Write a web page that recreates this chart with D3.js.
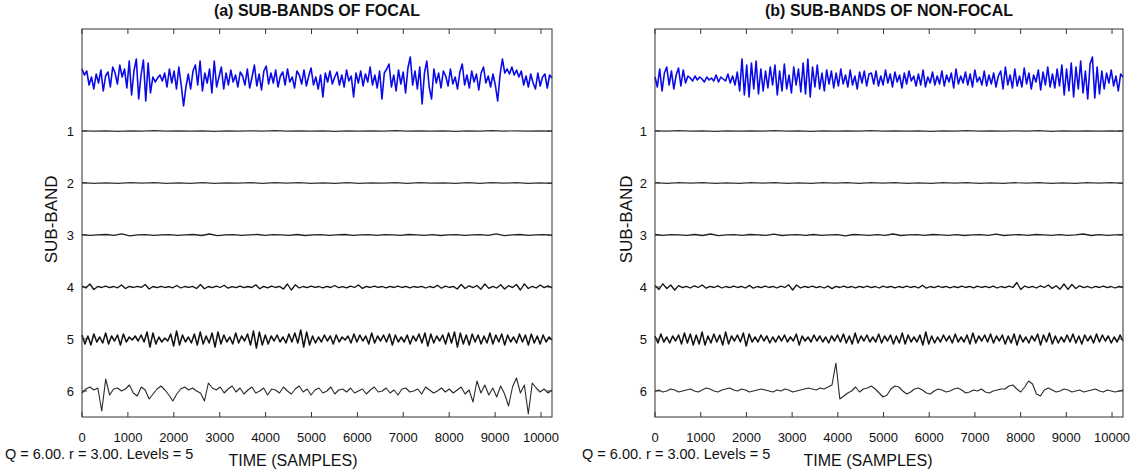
<!DOCTYPE html>
<html>
<head>
<meta charset="utf-8">
<script src="https://cdn.jsdelivr.net/npm/d3@7"></script>
<style>
  body { margin: 0; background: #fff; }
  text { font-family: "Liberation Sans", Arial, sans-serif; fill: #111; }
</style>
</head>
<body>
<div id="chart"></div>
<script>
// ---- data (amplitudes in the plot's own units) ----
const nSamples = 10240;
const xTicks = [0, 1000, 2000, 3000, 4000, 5000, 6000, 7000, 8000, 9000, 10000];
const bandLabels = ['1', '2', '3', '4', '5', '6'];
const titles = ['(a) SUB-BANDS OF FOCAL', '(b) SUB-BANDS OF NON-FOCAL'];
const paramText = 'Q = 6.00. r = 3.00. Levels = 5';

const focalSignal = [10, 4, 8, -6, 2, -10, 5, -4, 9, -12, 3, 7, -8, 12, 6, -5, 14, 2, 10, -9,
  18, -16, 8, 20, -20, 4, 19, -22, 16, -14, 2, -3, 1, 4, -2,
  6, -8, 10, -4, 8, -10, 12, -6, -27, -8,
  5, -10, 8, 14, -6, 18, -12, 6, -4, 10, -14, 18, -8, 2, 12, -10, 6, -6, 9, -3,
  4, -8, 7, 3, -6, 10, -9, 2, 14, -7, 5, -11, 8, 13, -5,
  6, -4, 9, -8, 3, 7, -6, 10, -3, 2, -9, 8, 4, -5, 9, -7, 3, 11, -6, 2,
  -10, 4, -18, 6, -3, 8, -5, 2, 7, -6, 4, -8, 9, -2, 3, -18, 6, -4, 8, -7,
  5, -3, 12, -6, 4, -9, 8, -20, 6, 10, 15, -8, 4, -12, 9, -5, 7, -14, 11, 22,
  -6, 8, -10, 12, -25, 6, 18, -8, -20, 10, -4, 6, -9, 8, 3, -7, 10, -5, 2, -10,
  7, 15, -6, 4, -9, 8, -3, 5, -11, 6, 12, -4, 3, -8, 5, -6, -22, 4, 20, 6,
  10, 5, 12, 4, 9, 2, 8, -6, 3, -8, 5, -4, -10, 6, -7, 2, 5, -9, 4, 1];

const nonFocalSignal = [2, -8, 10, -12, 6, 12, -6, 8, -10, 4, 11, -7, 9, -4, 3,
  1, -2, 3, -1, 2, 0, -3, 2, -1, 1, -2, 4, -3, 2, 0, -2, 5, -4, 3, -6, 7,
  -12, 20, -16, 14, -18, 16, -10, 18, -15,
  10, -12, 8, -9, 12, -6,
  14, -16, 8, -12, 15, -10, 4, -14, 12, -6, 10, -13, 16, -15, 20, -18, 12, -8, 14, -10, 6, -12, 9, -5,
  8, -9, 6, -7, 10, -5, 4, -8, 9, -6, 3, -10, 7, -4, 8, -7, 5,
  6, -5, 8, -7, 3, -6, 9, -4, 5, -8, 7, -3, 4, -9, 6, -5, 8, -2, 3, -7,
  5, -6, 9, -8, 2, -4, 7, -6, 3, -5, 8, -7, 4, -3, 6, -9, 10, -5, 3, -4,
  7, -6, 5, -8, 9, -3, 2, -6, 8, -7, 4, -5, 6, -8, 3,
  8, -10, 12, -6, 4, -9, 10, -7, 3, -8, 11, -5, 6, -10, 4, -3, 9, -11, 7, -6, 12, -8, 5, -9, 10, -7,
  14, -16, 10, -12, 16, -18, 12, -10, 18, -14, 8, -20, 15, 22, -19, 12, -15,
  8, -10, 6, -4, 9, -7, 3, -12, 5, 2];

const focalBand1 = [0.2, -0.2, 0.1, -0.3, 0.2, -0.1, 0.3, -0.2, 0.1, -0.2, 0.2, -0.3, 0.1, -0.1, 0.2, -0.2, 0.3, -0.1, 0.2, -0.2,
  0.1, -0.3, 0.2, -0.2, 0.1, -0.1, 0.3, -0.2, 0.2, -0.1, 0.1, -0.3, 0.2, -0.2, 0.3, -0.1, 0.2, -0.2, 0.1, -0.2];
const focalBand2 = [0.3, -0.3, 0.2, -0.4, 0.3, -0.2, 0.4, -0.3, 0.2, -0.3, 0.3, -0.4, 0.2, -0.2, 0.3, -0.3, 0.4, -0.2, 0.3, -0.3,
  0.2, -0.4, 0.3, -0.3, 0.2, -0.2, 0.4, -0.3, 0.3, -0.2, 0.2, -0.4, 0.3, -0.3, 0.4, -0.2, 0.3, -0.3, 0.2, -0.3];
const focalBand3 = [0.4, -0.4, 0.2, 0.5, -0.4, 1.2, -0.8, 0.1, 0.4, -0.3, 0.1, 0.4, -0.4, 0.1, 0.5, -0.5, 1.0, -0.6, 0.1, 0.4,
  -0.4, 0.1, 0.5, -0.4, 0.4, 0.1, -0.4, 0.5, -0.5, 0.1, 0.4, -0.4, 0.1, 0.5, -0.4, 0.1, 0.4, -0.4, 0.4, 0.1,
  -0.4, 0.5, 0.1, -0.4, 0.4, -0.5, 0.1, 0.4, -0.4, 0.1, 0.4, -0.4, 1.1, -0.7, 0.1, 0.5, -0.4, 0.1, 0.4, -0.4];
const focalBand4 = [0.8, -1, 3, -2.5, 0.6, -0.5, 0.8, -0.6, 0.5, -0.8, 2, -1.5, 0.6, -0.5, 0.7, -0.4, 2.5, -2, 0.5, -0.6,
  0.7, -0.5, 0.4, -0.8, 1.5, -1, 0.5, -0.4, 0.6, -1.5, 2.5, -1.8, 0.5, -0.6, 0.8, -0.5, 1.8, -1.2, 0.4, -0.7,
  0.9, -0.6, 0.5, -0.5, 2.2, -1.8, 0.6, -0.9, 0.8, -0.5, 0.6, -2, 3, -3, 2.2, -1, 0.5, -0.6, 0.8, -0.4,
  0.5, -0.8, 0.6, -0.5, 1.5, -0.7, 0.4, -0.9, 0.8, -0.5, 2, -1.4, 0.6, -0.5, 0.9, -0.4, 0.5, -0.8, 0.6, -0.5,
  0.8, -0.5, 0.6, -0.9, 0.5, -0.4, 0.7, -1, 0.5, -0.6, 1.8, -1.2, 0.9, -0.5, 0.6, -2, 2.5, -1.5, 1.2, -0.6,
  1.5, -2.2, 3, -1.4, 0.6, -1, 2.2, -2, 1.3, -0.6, 2.5, -3, 3.2, -1.5, 0.7, -1, 2, -0.6, 1.1, -0.8];
const focalBand5 = [4, -5, 3, -6, 5, -3, 2, -4, 6, -5, 3, -2, 4, -6, 5, -3, 2, -1, 3, -2,
  4, -3, 7, -8, 6, -5, 2, -3, 1, -2, 5, -7, 8, -6, 4, -3, 2, -4, 5, -6,
  7, -5, 3, -4, 6, -8, 7, -5, 4, -3, 2, -5, 6, -4, 3, -2, 5, -6, 8, -9,
  7, -6, 4, -5, 3, -2, 4, -3, 2, -4, 5, -3, 6, -4, 9, -8, 7, -6, 3, -4,
  2, -3, 4, -2, 3, -5, 4, -3, 2, -1, 3, -4, 5, -3, 4, -2, 3, -5, 6, -4,
  3, -2, 4, -3, 5, -6, 4, -3, 2, -3, 4, -5, 3, -2, 5, -4, 6, -7, 5, -4,
  3, -2, 4, -5, 6, -4, 7, -8, 6, -5, 4, -6, 5, -3, 4, -5, 3, -4, 6, -5,
  4, -3, 5, -6, 4, -3, 2, -4, 5, -3, 4, -6, 5, -4, 3, -5, 4, -3, 2, -1];
const focalBand6 = [-2, 2, 4, 1, 3, -20, 12, -4, 2, 3, 0, 2, 6,
  -2, -5, 4, 1, -8, -3, 2, 5, 1, -4, -10,
  -3, 2, 4, 1, 3, 0, -2, -10, 8, 3, 1, 4, -2, 2, 5, -1, 3,
  -3, 1, 4, -2, 0, 3, -4, 2, 1, -2, 4, 0, -3, 2, 5, -1, 2, -4, 1, 3, -2, 0, 4, -3, 1, 2, -1, 3, -2, 0,
  2, -3, 1, 4, -1, 0, 3, -2, 1, -4, 2, 3, -1, 0, 2, -3, 4, 1, -2, 0, 3, -1, 2, -2, 1, 4, -3, 1,
  -11, 10, -2, 6, -4, 3, -6, 5,
  -3, -15, 4, 13, -2, 6, -23, 8, 3, -1, 2, -2, 1];

const nonFocalBand1 = [0.2, -0.2, 0.3, -0.1, 0.2, -0.3, 0.1, -0.2, 0.2, -0.1, 0.3, -0.2, 0.1, -0.3, 0.2, -0.1, 0.2, -0.2, 0.3, -0.1,
  0.2, -0.2, 0.1, -0.3, 0.2, -0.1, 0.3, -0.2, 0.1, -0.2, 0.2, -0.1, 0.3, -0.3, 0.1, -0.2, 0.2, -0.1, 0.2, -0.2];
const nonFocalBand2 = [0.3, -0.3, 0.4, -0.2, 0.3, -0.4, 0.2, -0.3, 0.3, -0.2, 0.4, -0.3, 0.2, -0.4, 0.3, -0.2, 0.3, -0.3, 0.4, -0.2,
  0.3, -0.3, 0.2, -0.4, 0.3, -0.2, 0.4, -0.3, 0.2, -0.3, 0.3, -0.2, 0.4, -0.4, 0.2, -0.3, 0.3, -0.2, 0.3, -0.3];
const nonFocalBand3 = [0.5, -0.4, 0.4, 0.1, -0.4, 0.5, -0.5, 1.0, -0.6, 0.1, 0.4, -0.4, 0.5, 0.1, -0.4, 0.9, -0.5, 0.1, 0.4, -0.4,
  0.5, -0.4, 0.1, 0.4, -0.9, 0.5, 0.1, -0.4, 0.4, -0.4, 1.0, -0.5, 0.1, 0.4, -0.4, 0.5, 0.1, -0.4, 0.4, -0.5,
  0.1, 0.4, -0.4, 0.9, -0.5, 0.1, 0.4, -0.4, 0.5, 0.1, -0.4, 0.4, -0.4, 0.1, 1.0, -0.5, 0.4, -0.4, 0.1, 0.4];
const nonFocalBand4 = [1.5, -2.5, 3.2, -1.5, 2, -3, 1.4, -0.6, 0.7, -1, 1.2, -0.5, 2, -1.2, 0.6, -0.5, 1.1, -1, 0.5, -0.6,
  0.9, -0.5, 0.6, -1, 1.6, -1.2, 0.5, -0.6, 0.8, -0.5, 0.6, -1, 0.9, -0.5, 2.2, -3, 2, -1, 0.6, -0.5,
  0.8, -0.6, 0.5, -1, 0.9, -1.6, 0.6, -0.5, 0.8, -0.6, 0.5, -0.9, 0.6, -0.5, 0.8, -0.6, 0.5, -1, 0.9, -0.5,
  0.6, -0.9, 0.5, -0.6, 0.8, -0.5, 0.6, -1, 1.8, -1.2, 0.5, -0.6, 0.8, -0.5, 0.6, -0.9, 0.5, -0.6, 0.9, -0.5,
  0.6, -0.9, 0.8, -0.5, 0.6, -0.6, 0.9, -1, 0.5, -0.6, 0.9, -0.5, 4.5, -2.5, 1, -0.6, 0.6, -1, 1.2, -0.5,
  2, -1.4, 1.2, -2.2, 3, -2.4, 2.5, -1.5, 1.2, -0.6, 0.6, -1, 0.6, -0.5, 0.9, -0.6, 0.5, -1, 0.6, -0.5];
const nonFocalBand5 = [3, -4, 5, -3, 2, -4, 3, -2, 4, -5, 6, -4, 5, -6, 4, -5, 7, -6, 3, -4,
  5, -3, 4, -6, 7, -5, 3, -2, 4, -3, 6, -7, 5, -3, 2, -3, 4, -2, 3, -4,
  2, -3, 3, -2, 4, -3, 2, -2, 5, -6, 3, -2, 2, -3, 4, -2, 3, -3, 2, -4,
  3, -2, 4, -3, 5, -4, 3, -5, 6, -4, 3, -2, 4, -3, 2, -3, 5, -4, 3, -2,
  4, -5, 3, -4, 6, -5, 4, -3, 2, -3, 4, -6, 7, -5, 3, -4, 2, -3, 4, -2,
  3, -4, 5, -3, 2, -3, 4, -5, 6, -4, 3, -2, 4, -3, 5, -4, 3, -2, 4, -5,
  3, -4, 5, -6, 4, -3, 2, -4, 3, -2, 5, -6, 4, -3, 6, -5, 3, -4, 2, -3,
  4, -3, 5, -4, 3, -5, 4, -2, 3, -4, 5, -3, 4, -2, 3, -4, 2, -3, 4, -2];
const nonFocalBand6 = [0, 1, -1, 0, 2, 1, -1, 0, 1, 2, 0, -1, 1, 3, 2, 0, -1, 1, 2, 3,
  1, 0, 2, 1, -1, 0, 1, 2, 1, 0, -1, 1, 0, 2, 1, -1, 0, 1, 2, 3, 2,
  1, 3, 2, 4, 6,
  28, -8, -5, -2, 0, 4, -1, 2,
  3, 5, 2, -2, -6, -4, 2, 5, 4, 0, -3,
  -1, 2, 3, 1, -2, -3, 0, 2, 1, -1, 0, 2, 3, 1, -2, -1, 1, 0, 2, -1, -2, 0, 1, 2,
  2, 5, 6, 2, -1,
  4, 10, 7, -3, -5, 1,
  3, 1, -1, 0, 2, 1, -1, 0, 1, -1, 0, 1, 2, 0, -1, 1, 0, -1, 0, 1];

const focalTraces = [focalSignal, focalBand1, focalBand2, focalBand3, focalBand4, focalBand5, focalBand6];
const nonFocalTraces = [nonFocalSignal, nonFocalBand1, nonFocalBand2, nonFocalBand3, nonFocalBand4, nonFocalBand5, nonFocalBand6];

// ---- layout ----
const width = 1140, height = 472;
const bandGap = 52;                      // vertical spacing of the stacked traces, data units
const plotTop = 29, plotBottom = 417;
const traceStyle = [
  { color: '#0a0ae8', w: 1.6 },
  { color: '#333', w: 1.2 },
  { color: '#333', w: 1.2 },
  { color: '#222', w: 1.3 },
  { color: '#111', w: 1.3 },
  { color: '#111', w: 1.5 },
  { color: '#2a2a2a', w: 1.1 }
];
const panels = [
  { left: 82, right: 552, title: titles[0], traces: focalTraces, paramX: 5, xlabelX: 293, ylabelX: 57 },
  { left: 655, right: 1123, title: titles[1], traces: nonFocalTraces, paramX: 582, xlabelX: 868, ylabelX: 632 }
];

const svg = d3.select('#chart').append('svg')
  .attr('width', width)
  .attr('height', height);

const y = d3.scaleLinear()
  .domain([-50, 6 * bandGap + 26])
  .range([plotTop, plotBottom]);

panels.forEach(drawPanel);

function drawPanel(p) {
  const x = d3.scaleLinear().domain([0, nSamples]).range([p.left, p.right]);
  const g = svg.append('g');

  // traces
  p.traces.forEach(function(values, band) {
    const step = nSamples / (values.length - 1);
    const line = d3.line()
      .x((d, i) => x(i * step))
      .y(d => y(band * bandGap - d));
    g.append('path')
      .datum(values)
      .attr('fill', 'none')
      .attr('stroke', traceStyle[band].color)
      .attr('stroke-width', traceStyle[band].w)
      .attr('stroke-linejoin', 'round')
      .attr('d', line);
  });

  // box
  g.append('rect')
    .attr('x', p.left).attr('y', plotTop)
    .attr('width', p.right - p.left).attr('height', plotBottom - plotTop)
    .attr('fill', 'none')
    .attr('stroke', '#333')
    .attr('stroke-width', 1);

  // x ticks, inward on bottom and top
  const xt = g.append('g').attr('stroke', '#333');
  xTicks.forEach(function(t) {
    xt.append('line').attr('x1', x(t)).attr('x2', x(t)).attr('y1', plotBottom).attr('y2', plotBottom - 5);
    xt.append('line').attr('x1', x(t)).attr('x2', x(t)).attr('y1', plotTop).attr('y2', plotTop + 5);
  });
  g.selectAll('.xtl').data(xTicks).enter().append('text')
    .attr('class', 'xtl')
    .attr('x', d => x(d))
    .attr('y', plotBottom + 25)
    .attr('text-anchor', 'middle')
    .attr('font-size', 13)
    .text(d => d);

  // band ticks + labels
  bandLabels.forEach(function(lab, i) {
    const yy = y((i + 1) * bandGap);
    xt.append('line').attr('x1', p.left).attr('x2', p.left + 5).attr('y1', yy).attr('y2', yy);
    xt.append('line').attr('x1', p.right).attr('x2', p.right - 5).attr('y1', yy).attr('y2', yy);
    g.append('text')
      .attr('x', p.left - 8)
      .attr('y', yy)
      .attr('dy', '0.35em')
      .attr('text-anchor', 'end')
      .attr('font-size', 13)
      .text(lab);
  });

  // titles and labels
  g.append('text')
    .attr('x', (p.left + p.right) / 2)
    .attr('y', 16)
    .attr('text-anchor', 'middle')
    .attr('font-size', 16)
    .attr('font-weight', 'bold')
    .text(p.title);

  g.append('text')
    .attr('transform', `translate(${p.ylabelX},${y(2.7 * bandGap)}) rotate(-90)`)
    .attr('text-anchor', 'middle')
    .attr('font-size', 17)
    .text('SUB-BAND');

  g.append('text')
    .attr('x', p.xlabelX)
    .attr('y', 466)
    .attr('text-anchor', 'middle')
    .attr('font-size', 16)
    .text('TIME (SAMPLES)');

  g.append('text')
    .attr('x', p.paramX)
    .attr('y', 459)
    .attr('font-size', 14.5)
    .text(paramText);
}
</script>
</body>
</html>
